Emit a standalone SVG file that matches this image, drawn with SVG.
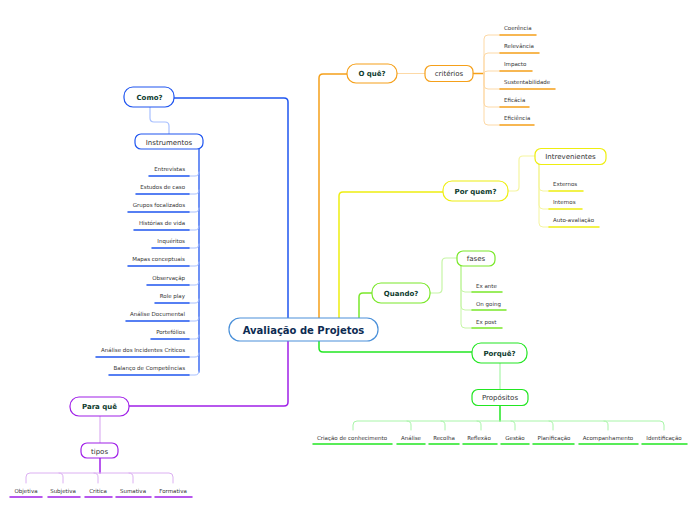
<svg xmlns="http://www.w3.org/2000/svg" width="696" height="520" viewBox="0 0 696 520">
<style>
text{font-family:"DejaVu Sans","Verdana",sans-serif;}
.main{font-size:7px;font-weight:bold;fill:#0e3b2e;text-anchor:middle;}
.sub{font-size:7px;fill:#333;text-anchor:middle;}
.it{font-size:5.5px;fill:#333;}
.c{fill:none;stroke-linecap:round;stroke-linejoin:round;}
.box{fill:#fff;stroke-width:1.2;}
</style>
<rect width="696" height="520" fill="#fff"/>
<g id="connectors" class="c">
  <path d="M288,318 V102 Q288,98 284,98 H174" stroke="#1f55f0" stroke-width="1.5"/>
  <path d="M288,341 V402 Q288,406 284,406 H129" stroke="#a020e8" stroke-width="1.5"/>
  <path d="M319,318 V78 Q319,74 323,74 H347" stroke="#f5a01a" stroke-width="1.5"/>
  <path d="M339,318 V196 Q339,192 343,192 H444" stroke="#eeee10" stroke-width="1.5"/>
  <path d="M359,318 V297 Q359,293 363,293 H372" stroke="#7ae82a" stroke-width="1.5"/>
  <path d="M319,341 V348 Q319,352 323,352 H472" stroke="#22e622" stroke-width="1.5"/>
  <path d="M397,73.5 H425" stroke="#fdd9a6" stroke-width="1.2"/>
  <path d="M473,73.5 H484" stroke="#f5a01a" stroke-width="1.5"/>
  <g stroke="#fdd9a6" stroke-width="1">
    <path d="M484,73 V39 Q484,35 488,35 H500"/>
    <path d="M484,73 V57 Q484,53 488,53 H500"/>
    <path d="M484,73 Q484,71 488,71 H500"/>
    <path d="M484,73 V85 Q484,89 488,89 H500"/>
    <path d="M484,73 V103 Q484,107 488,107 H500"/>
    <path d="M484,73 V121 Q484,125 488,125 H500"/>
  </g>
  <g stroke="#f5a01a" stroke-width="1.5">
    <path d="M500,35 H536"/><path d="M500,53 H539"/><path d="M500,71 H532"/>
    <path d="M500,89 H555"/><path d="M500,107 H529"/><path d="M500,125 H534"/>
  </g>
  <path d="M508,191 H515 Q519,191 519,187 V160 Q519,156 523,156 H535" stroke="#f5f5a0" stroke-width="1.2"/>
  <g stroke="#f5f5a0" stroke-width="1">
    <path d="M539,164 V187 Q539,191 543,191 H549"/>
    <path d="M539,164 V205 Q539,209 543,209 H549"/>
    <path d="M539,164 V223 Q539,227 543,227 H549"/>
  </g>
  <g stroke="#eeee10" stroke-width="1.5">
    <path d="M549,191 H583"/><path d="M549,209 H582"/><path d="M549,227 H599"/>
  </g>
  <path d="M430,293 H438 Q442,293 442,289 V262 Q442,258 446,258 H457" stroke="#c6f5a6" stroke-width="1.2"/>
  <g stroke="#c6f5a6" stroke-width="1">
    <path d="M461,266 V288 Q461,292 465,292 H472"/>
    <path d="M461,266 V306 Q461,310 465,310 H472"/>
    <path d="M461,266 V324 Q461,328 465,328 H472"/>
  </g>
  <g stroke="#7ae82a" stroke-width="1.5">
    <path d="M472,292 H502"/><path d="M472,310 H506"/><path d="M472,328 H502"/>
  </g>
  <path d="M500,363 V389" stroke="#a8f5a8" stroke-width="1.2"/>
  <path d="M500,405 V421" stroke="#22e622" stroke-width="1.5"/>
  <g stroke="#a8f5a8" stroke-width="1">
    <path d="M353,430 V425 Q353,421 357,421 H660 Q664,421 664,425 V430"/>
    <path d="M407,421 Q411,421 411,425 V430"/>
    <path d="M441,421 Q445,421 445,425 V430"/>
    <path d="M477,421 Q481,421 481,425 V430"/>
    <path d="M511,421 Q515,421 515,425 V430"/>
    <path d="M549,421 Q553,421 553,425 V430"/>
    <path d="M604,421 Q608,421 608,425 V430"/>
  </g>
  <g stroke="#22e622" stroke-width="1.5">
    <path d="M313,444 H392"/><path d="M397,444 H425"/><path d="M429,444 H459"/><path d="M463,444 H497"/>
    <path d="M501,444 H529"/><path d="M533,444 H574"/><path d="M579,444 H638"/><path d="M642,444 H687"/>
  </g>
  <path d="M150,107 V118 Q150,122 154,122 H165 Q169,122 169,126 V134" stroke="#a8c0ff" stroke-width="1.2"/>
  <path d="M199,149 V372" stroke="#1f55f0" stroke-width="1.3"/>
  <g stroke="#a8c0ff" stroke-width="1">
    <path d="M189,176 H195 Q199,176 199,172"/>
    <path d="M189,194 H195 Q199,194 199,190"/>
    <path d="M189,212 H195 Q199,212 199,208"/>
    <path d="M189,230 H195 Q199,230 199,226"/>
    <path d="M189,248 H195 Q199,248 199,244"/>
    <path d="M189,266 H195 Q199,266 199,262"/>
    <path d="M189,285 H195 Q199,285 199,281"/>
    <path d="M189,303 H195 Q199,303 199,299"/>
    <path d="M189,321 H195 Q199,321 199,317"/>
    <path d="M189,339 H195 Q199,339 199,335"/>
    <path d="M189,357 H195 Q199,357 199,353"/>
    <path d="M189,375 H195 Q199,375 199,371"/>
  </g>
  <g stroke="#1f55f0" stroke-width="1.5">
    <path d="M149,176 H189"/><path d="M136,194 H189"/><path d="M128,212 H189"/><path d="M134,230 H189"/>
    <path d="M152,248 H189"/><path d="M128,266 H189"/><path d="M147,285 H189"/><path d="M155,303 H189"/>
    <path d="M126,321 H189"/><path d="M151,339 H189"/><path d="M96,357 H189"/><path d="M109,375 H189"/>
  </g>
  <path d="M100,416 V443" stroke="#dcb0f2" stroke-width="1.2"/>
  <path d="M100,458 V473" stroke="#a020e8" stroke-width="1.5"/>
  <g stroke="#dcb0f2" stroke-width="1">
    <path d="M26,483 V477 Q26,473 30,473 H169 Q173,473 173,477 V483"/>
    <path d="M59,473 Q63,473 63,477 V483"/>
    <path d="M94,473 Q98,473 98,477 V483"/>
    <path d="M129,473 Q133,473 133,477 V483"/>
  </g>
  <g stroke="#a020e8" stroke-width="1.5">
    <path d="M10,497 H42"/><path d="M48,497 H80"/><path d="M85,497 H112"/><path d="M116,497 H151"/><path d="M155,497 H192"/>
  </g>
</g>
<g id="center">
  <rect x="229" y="318" width="149" height="23" rx="11" class="box" stroke="#4a90d9"/>
  <text x="303.5" y="333.5" style="font-size:10px;font-weight:bold;fill:#0d2b52;text-anchor:middle">Avaliação de Projetos</text>
</g>
<g id="oque">
  <rect x="347" y="64" width="50" height="19" rx="9" class="box" stroke="#f5a01a"/>
  <text x="372" y="76" class="main">O quê?</text>
</g>
<g id="criterios">
  <rect x="425" y="65.5" width="48" height="16" rx="6" class="box" stroke="#f5a01a"/>
  <text x="449" y="76" class="sub">critérios</text>
  <text x="504" y="30" class="it">Coerência</text>
  <text x="504" y="48" class="it">Relevância</text>
  <text x="504" y="66" class="it">Impacto</text>
  <text x="504" y="84" class="it">Sustentabilidade</text>
  <text x="504" y="102" class="it">Eficácia</text>
  <text x="504" y="120" class="it">Eficiência</text>
</g>
<g id="porquem">
  <rect x="443" y="181" width="65" height="20" rx="9" class="box" stroke="#eeee10"/>
  <text x="475.5" y="193.5" class="main">Por quem?</text>
</g>
<g id="intrevenientes">
  <rect x="535" y="148.5" width="71" height="16" rx="6" class="box" stroke="#eeee10"/>
  <text x="570.5" y="159" class="sub">Intrevenientes</text>
  <text x="553" y="186" class="it">Externos</text>
  <text x="553" y="204" class="it">Internos</text>
  <text x="553" y="222" class="it">Auto-avaliação</text>
</g>
<g id="quando">
  <rect x="372" y="283" width="58" height="20" rx="9" class="box" stroke="#7ae82a"/>
  <text x="401" y="295.5" class="main">Quando?</text>
</g>
<g id="fases">
  <rect x="457" y="251" width="38" height="15" rx="6" class="box" stroke="#7ae82a"/>
  <text x="476" y="261" class="sub">fases</text>
  <text x="476" y="288" class="it">Ex ante</text>
  <text x="476" y="306" class="it">On going</text>
  <text x="476" y="324" class="it">Ex post</text>
</g>
<g id="porque">
  <rect x="472" y="343" width="55" height="20" rx="9" class="box" stroke="#22e622"/>
  <text x="499.5" y="355.5" class="main">Porquê?</text>
</g>
<g id="propositos">
  <rect x="472" y="389.5" width="56" height="16" rx="6" class="box" stroke="#22e622"/>
  <text x="500" y="400" class="sub">Propósitos</text>
  <g class="it" style="text-anchor:middle">
    <text x="352" y="440">Criação de conhecimento</text>
    <text x="411" y="440">Análise</text>
    <text x="444" y="440">Recolha</text>
    <text x="479" y="440">Reflexão</text>
    <text x="515" y="440">Gestão</text>
    <text x="554" y="440">Planificação</text>
    <text x="608" y="440">Acompanhamento</text>
    <text x="664" y="440">Identificação</text>
  </g>
</g>
<g id="como">
  <rect x="124" y="87" width="50" height="20" rx="9" class="box" stroke="#1f55f0"/>
  <text x="149.5" y="99.5" class="main">Como?</text>
</g>
<g id="instrumentos">
  <rect x="135" y="134" width="68" height="15" rx="6" class="box" stroke="#1f55f0"/>
  <text x="169" y="144.5" class="sub">Instrumentos</text>
  <g class="it" style="text-anchor:end">
    <text x="185" y="171">Entrevistas</text>
    <text x="185" y="189">Estudos de caso</text>
    <text x="185" y="207">Grupos focalizados</text>
    <text x="185" y="225">Histórias de vida</text>
    <text x="185" y="243">Inquéritos</text>
    <text x="185" y="261">Mapas conceptuais</text>
    <text x="185" y="280">Observaçãp</text>
    <text x="185" y="298">Role play</text>
    <text x="185" y="316">Análise Documental</text>
    <text x="185" y="334">Portefólios</text>
    <text x="185" y="352">Análise dos Incidentes Criticos</text>
    <text x="185" y="370">Balanço de Competências</text>
  </g>
</g>
<g id="paraque">
  <rect x="70" y="397" width="59" height="19" rx="9" class="box" stroke="#a020e8"/>
  <text x="99.5" y="409" class="main">Para quê</text>
</g>
<g id="tipos">
  <rect x="81" y="443" width="37" height="15" rx="6" class="box" stroke="#a020e8"/>
  <text x="99.5" y="453.5" class="sub">tipos</text>
  <g class="it" style="text-anchor:middle">
    <text x="26" y="492.5">Objetiva</text>
    <text x="63" y="492.5">Subjetiva</text>
    <text x="98" y="492.5">Critica</text>
    <text x="133" y="492.5">Sumativa</text>
    <text x="173" y="492.5">Formativa</text>
  </g>
</g>
</svg>
